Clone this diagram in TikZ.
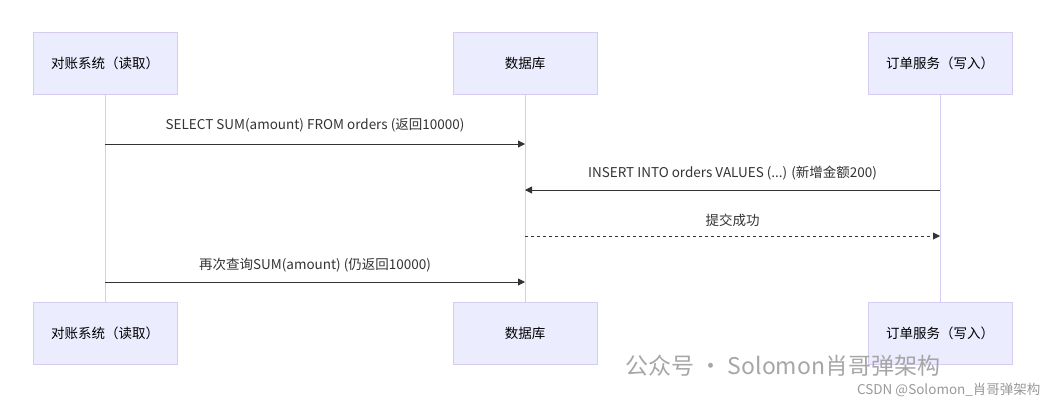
\documentclass[tikz,border=0pt]{standalone}
\usepackage{fontspec}
\setmainfont{Noto Sans CJK SC}
\usetikzlibrary{arrows.meta}
\definecolor{actfill}{HTML}{ECECFF}
\definecolor{actline}{HTML}{D6CCF2}
\definecolor{msgline}{HTML}{333333}
\begin{document}
\begin{tikzpicture}[x=1pt,y=-1pt,
    actor/.style={draw=actline,fill=actfill,minimum width=144pt,minimum height=62pt,font=\fontsize{13.5}{15}\selectfont},
    lifeline/.style={draw=actline,line width=1pt},
    msg/.style={draw=msgline,line width=0.9pt,-{Triangle[length=7pt,width=7pt]}},
    reply/.style={msg,dashed},
    lbl/.style={font=\fontsize{13.5}{15}\selectfont,text=msgline}]
  \useasboundingbox (0,0) rectangle (1047,408);
  % actors
  \node[actor] (recTop) at (105,63)  {对账系统（读取）};
  \node[actor] (dbTop)  at (525,63)  {数据库};
  \node[actor] (ordTop) at (940,63)  {订单服务（写入）};
  \node[actor] (recBot) at (105,333) {对账系统（读取）};
  \node[actor] (dbBot)  at (525,333) {数据库};
  \node[actor] (ordBot) at (940,333) {订单服务（写入）};
  \draw[lifeline] (recTop) -- (recBot);
  \draw[lifeline] (dbTop) -- (dbBot);
  \draw[lifeline] (ordTop) -- (ordBot);
  % message anchors
  \coordinate (r1) at (105,144); \coordinate (d1) at (525,144);
  \coordinate (o2) at (940,190); \coordinate (d2) at (525,190);
  \coordinate (d3) at (525,236); \coordinate (o3) at (940,236);
  \coordinate (r4) at (105,282); \coordinate (d4) at (525,282);
  % messages
  \draw[msg] (r1) -- node[lbl,above=8pt] {SELECT SUM(amount) FROM orders (返回10000)} (d1);
  \draw[msg] (o2) -- node[lbl,above=6pt] {INSERT INTO orders VALUES (...) (新增金额200)} (d2);
  \draw[reply] (d3) -- node[lbl,above=6pt] {提交成功} (o3);
  \draw[msg] (r4) -- node[lbl,above=6pt] {再次查询SUM(amount) (仍返回10000)} (d4);
  % watermark
  \node[text=gray!70,font=\fontsize{23}{25}\selectfont,anchor=west] (wm1) at (622,366) {公众号 · Solomon肖哥弹架构};
  \node[text=gray!80,font=\fontsize{13.5}{15}\selectfont,anchor=east] (wm2) at (1044,390) {CSDN @Solomon\_肖哥弹架构};
\end{tikzpicture}
\end{document}
